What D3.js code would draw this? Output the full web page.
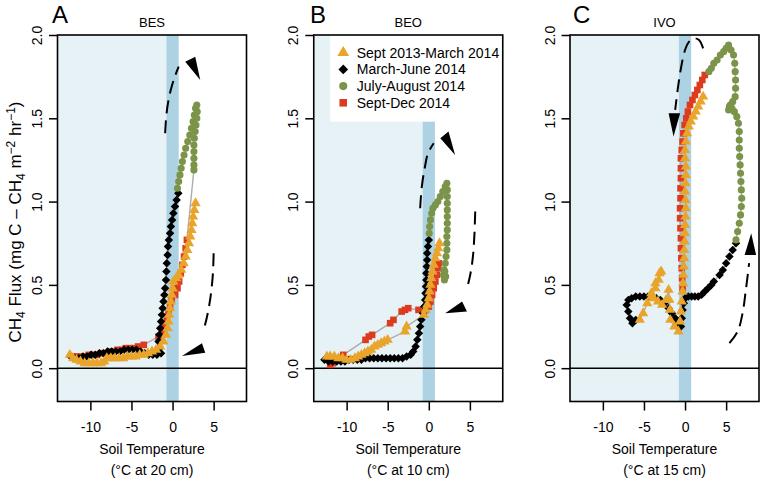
<!DOCTYPE html>
<html>
<head>
<meta charset="utf-8">
<script src="https://cdn.jsdelivr.net/npm/d3@7"></script>
<style>
  body { margin: 0; background: #fff; }
  svg { display: block; font-family: "Liberation Sans", Arial, Helvetica, sans-serif; }
</style>
</head>
<body>
<svg id="chart" width="765" height="482"></svg>
<script>
// ---- axis / label data ----
const xTicks = [-10, -5, 0, 5];
const yTicks = [0, 0.5, 1, 1.5, 2];
const siteNames = ["BES", "BEO", "IVO"];
const panelLetters = ["A", "B", "C"];
const depthLabels = ["(°C at 20 cm)", "(°C at 10 cm)", "(°C at 15 cm)"];
const seriesNames = ["Sept 2013-March 2014", "March-June 2014", "July-August 2014", "Sept-Dec 2014"];
const seriesColors = ["#e9a42b", "#000000", "#7b944a", "#dd3b1f"];

// ---- BES (soil temp °C, CH4 flux), in time order ----
const besSep13 = [[2.8,0.99],[2.65,0.95],[2.5,0.91],[2.4,0.87],[2.3,0.83],[2.15,0.79],[2.0,0.75],[1.8,0.71],[1.6,0.67],[1.35,0.63],[1.05,0.59],[0.75,0.56],[0.45,0.54],[0.1,0.52],[0.0,0.48],[-0.1,0.44],[-0.2,0.4],[-0.3,0.36],[-0.4,0.32],[-0.5,0.28],[-0.6,0.24],[-0.8,0.2],[-1.1,0.16],[-1.5,0.13],[-2.0,0.11],[-2.5,0.1],[-3.0,0.09],[-3.5,0.08],[-4.0,0.08],[-4.5,0.07],[-5.0,0.07],[-5.5,0.07],[-6.0,0.06],[-6.5,0.06],[-7.0,0.06],[-7.5,0.06],[-8.0,0.06],[-8.3,0.04],[-8.7,0.03],[-9.2,0.03],[-9.7,0.03],[-10.2,0.03],[-10.7,0.03],[-11.2,0.04],[-11.7,0.05],[-12.1,0.06],[-12.5,0.08]];
const besMarJun = [[-12.4,0.07],[-11.9,0.06],[-11.4,0.06],[-10.9,0.07],[-10.4,0.07],[-9.9,0.08],[-9.4,0.08],[-8.9,0.09],[-8.4,0.09],[-7.9,0.1],[-7.4,0.1],[-6.9,0.1],[-6.4,0.1],[-5.9,0.11],[-5.4,0.11],[-4.9,0.11],[-4.4,0.11],[-3.9,0.1],[-3.4,0.09],[-2.9,0.08],[-2.4,0.08],[-1.9,0.08],[-1.4,0.09],[-1.6,0.12],[-1.7,0.16],[-1.6,0.2],[-1.5,0.24],[-1.4,0.28],[-1.3,0.32],[-1.2,0.36],[-1.1,0.4],[-1.0,0.44],[-0.9,0.48],[-0.8,0.53],[-0.75,0.58],[-0.7,0.63],[-0.6,0.68],[-0.55,0.73],[-0.45,0.77],[-0.3,0.81],[-0.2,0.85],[-0.05,0.89],[0.1,0.93],[0.3,0.97],[0.5,1.01],[0.7,1.05]];
const besJulAug = [[0.6,1.08],[0.75,1.12],[0.9,1.16],[1.05,1.2],[1.2,1.24],[1.4,1.28],[1.6,1.32],[1.85,1.36],[2.1,1.4],[2.3,1.44],[2.5,1.48],[2.65,1.52],[2.8,1.56],[2.95,1.58],[3.0,1.54],[2.95,1.5],[2.85,1.46],[2.75,1.42],[2.65,1.38],[2.6,1.34],[2.6,1.3],[2.6,1.26],[2.6,1.22],[2.6,1.19]];
const besSepDec = [[1.75,0.77],[1.6,0.72],[1.4,0.67],[1.2,0.62],[1.0,0.57],[0.8,0.52],[0.6,0.48],[0.3,0.44],[-0.1,0.41],[-0.3,0.37],[-0.5,0.33],[-0.7,0.29],[-0.9,0.25],[-1.2,0.22],[-1.7,0.19],[-3.5,0.14],[-4.2,0.13],[-4.7,0.12],[-5.2,0.12],[-5.7,0.12],[-6.2,0.11],[-6.7,0.11],[-7.2,0.1],[-7.7,0.1],[-8.2,0.09],[-8.7,0.09],[-9.2,0.08],[-9.7,0.08],[-10.2,0.08],[-10.7,0.07],[-11.2,0.07],[-11.7,0.07],[-12.2,0.07]];

// ---- BEO ----
const beoSep13 = [[1.3,0.75],[1.15,0.72],[1.0,0.69],[0.8,0.66],[0.6,0.62],[0.45,0.58],[0.3,0.54],[0.2,0.5],[0.1,0.46],[0.0,0.42],[-0.2,0.38],[-0.4,0.35],[-0.6,0.32],[-2.7,0.25],[-2.9,0.22],[-5.0,0.17],[-5.4,0.16],[-5.8,0.15],[-6.2,0.14],[-6.6,0.13],[-7.0,0.11],[-7.4,0.1],[-7.8,0.09],[-8.2,0.08],[-8.6,0.07],[-9.0,0.06],[-9.5,0.05],[-10.0,0.05],[-10.5,0.06],[-11.0,0.06],[-11.5,0.07],[-12.0,0.07],[-12.4,0.07]];
const beoMarJun = [[-12.7,0.05],[-12.2,0.04],[-11.7,0.04],[-11.2,0.04],[-10.7,0.04],[-10.2,0.04],[-9.7,0.05],[-9.2,0.05],[-8.7,0.05],[-8.2,0.05],[-7.7,0.06],[-7.2,0.06],[-6.7,0.06],[-6.2,0.06],[-5.7,0.06],[-5.2,0.06],[-4.7,0.06],[-4.2,0.06],[-3.7,0.06],[-3.2,0.06],[-2.7,0.07],[-2.2,0.08],[-1.9,0.1],[-1.6,0.13],[-1.4,0.17],[-1.2,0.21],[-1.05,0.25],[-0.9,0.29],[-0.7,0.33],[-0.55,0.37],[-0.45,0.41],[-0.4,0.45],[-0.35,0.49],[-0.3,0.53],[-0.3,0.57],[-0.25,0.61],[-0.2,0.65],[-0.2,0.69],[-0.1,0.73],[0.0,0.77]];
const beoJulAug = [[0.05,0.81],[0.1,0.85],[0.2,0.89],[0.35,0.93],[0.5,0.96],[0.8,0.98],[1.1,1.0],[1.4,1.03],[1.7,1.06],[2.0,1.09],[2.2,1.11],[2.25,1.07],[2.25,1.03],[2.25,0.99],[2.25,0.95],[2.25,0.91],[2.25,0.87],[2.25,0.83],[2.2,0.79],[2.2,0.75],[2.2,0.71],[2.1,0.67],[2.0,0.63],[1.85,0.59],[1.8,0.56],[1.95,0.58],[2.05,0.55],[1.9,0.53]];
const beoSepDec = [[1.2,0.63],[1.1,0.6],[1.0,0.56],[0.8,0.52],[0.6,0.48],[0.4,0.44],[0.2,0.4],[0.0,0.37],[-0.4,0.35],[-1.25,0.35],[-2.5,0.36],[-2.9,0.35],[-3.3,0.34],[-4.3,0.29],[-4.7,0.27],[-6.9,0.2],[-7.3,0.19],[-7.7,0.17],[-10.4,0.08],[-10.9,0.06],[-11.3,0.05],[-11.7,0.03],[-12.0,0.02]];

// ---- IVO ----
const ivoSep13 = [[2.2,1.63],[1.9,1.6],[1.6,1.57],[1.3,1.54],[1.0,1.51],[0.7,1.48],[0.45,1.45],[0.25,1.41],[0.1,1.36],[0.0,1.31],[0.0,1.26],[0.1,1.21],[0.1,1.16],[0.05,1.11],[0.0,1.06],[0.05,1.01],[0.1,0.96],[0.05,0.91],[0.0,0.86],[0.0,0.81],[-0.05,0.76],[-0.1,0.71],[-0.1,0.66],[-0.15,0.61],[-0.2,0.56],[-0.25,0.51],[-0.3,0.46],[-0.4,0.4],[-0.5,0.34],[-0.6,0.28],[-0.8,0.22],[-1.3,0.25],[-1.8,0.29],[-1.85,0.35],[-1.9,0.41],[-2.0,0.47],[-2.3,0.41],[-2.8,0.38],[-3.3,0.4],[-3.8,0.42],[-4.1,0.43],[-3.6,0.48],[-3.2,0.53],[-2.9,0.58],[-3.1,0.57],[-3.6,0.51],[-4.1,0.45],[-4.6,0.39],[-5.1,0.33],[-5.5,0.29]];
const ivoMarJun = [[-6.0,0.29],[-6.4,0.27],[-6.7,0.3],[-6.9,0.34],[-7.1,0.38],[-6.9,0.41],[-6.5,0.42],[-6.0,0.43],[-5.5,0.43],[-5.0,0.43],[-4.5,0.43],[-4.0,0.43],[-3.5,0.42],[-3.0,0.41],[-2.5,0.39],[-2.0,0.36],[-1.6,0.33],[-1.2,0.3],[-0.8,0.27],[-0.5,0.25],[-0.4,0.3],[-0.3,0.35],[-0.15,0.39],[0.0,0.42],[0.4,0.43],[0.8,0.43],[1.2,0.43],[1.6,0.43],[2.0,0.44],[2.4,0.46],[2.8,0.48],[3.2,0.5],[3.5,0.52],[4.2,0.56],[4.6,0.59],[5.0,0.63],[5.4,0.67],[5.8,0.71],[6.2,0.75]];
const ivoJulAug = [[6.2,0.77],[6.4,0.82],[6.6,0.87],[6.75,0.92],[6.85,0.97],[6.9,1.02],[6.85,1.07],[6.8,1.12],[6.75,1.17],[6.7,1.22],[6.65,1.27],[6.6,1.32],[6.6,1.37],[6.6,1.42],[6.5,1.47],[6.3,1.51],[6.0,1.54],[5.7,1.56],[5.4,1.57],[5.3,1.55],[5.5,1.58],[5.8,1.6],[6.1,1.63],[6.15,1.68],[6.15,1.73],[6.1,1.78],[6.05,1.83],[5.9,1.88],[5.6,1.91],[5.3,1.94],[5.0,1.92],[4.7,1.9],[4.3,1.88],[3.9,1.85],[3.5,1.83],[3.2,1.8],[2.9,1.78]];
const ivoSepDec = [[2.4,1.76],[2.1,1.73],[1.8,1.7],[1.5,1.67],[1.2,1.64],[0.9,1.61],[0.6,1.58],[0.35,1.54],[0.15,1.5],[-0.05,1.46],[-0.2,1.41],[-0.3,1.36],[-0.4,1.31],[-0.5,1.26],[-0.5,1.2],[-0.5,1.14],[-0.55,1.08],[-0.55,1.02],[-0.6,0.96],[-0.6,0.9],[-0.55,0.84],[-0.5,0.78],[-0.5,0.72],[-0.45,0.66],[-0.4,0.6],[-0.35,0.54],[-0.3,0.48]];

// ---- dashed hysteresis arrows (data units) ----
const besArrowUp = [[-0.9,1.41],[-0.75,1.52],[-0.45,1.62],[-0.05,1.7],[0.35,1.76],[0.75,1.81]];
const besHeadUp = [[1.55,1.84],[2.76,1.87],[3.37,1.73]];
const besArrowLow = [[5.0,0.69],[4.9,0.56],[4.6,0.42],[4.2,0.31],[3.8,0.23]];
const besHeadLow = [[1.14,0.073],[3.58,0.15],[3.98,0.093]];
const beoArrowUp = [[-1.05,0.96],[-0.85,1.09],[-0.5,1.2],[-0.1,1.29],[0.6,1.35]];
const beoHeadUp = [[1.4,1.38],[2.4,1.42],[3.2,1.28]];
const beoArrowLow = [[5.65,0.94],[5.55,0.8],[5.35,0.66],[5.0,0.55],[4.6,0.47]];
const beoHeadLow = [[2.0,0.33],[4.05,0.4],[4.65,0.34]];
const ivoArrowUp = [[2.2,1.92],[1.7,1.97],[1.1,1.98],[0.5,1.96],[0.0,1.91],[-0.5,1.8],[-0.9,1.67],[-1.2,1.55]];
const ivoHeadUp = [[-2.0,1.53],[-0.6,1.53],[-1.4,1.39]];
const ivoArrowLow = [[5.4,0.15],[6.4,0.22],[7.0,0.33],[7.4,0.47],[7.8,0.63]];
const ivoHeadLow = [[7.25,0.68],[8.65,0.68],[8.05,0.81]];

const panels = [
  { series: [besSep13, besMarJun, besJulAug, besSepDec], arrows: [besArrowUp, besArrowLow], heads: [besHeadUp, besHeadLow] },
  { series: [beoSep13, beoMarJun, beoJulAug, beoSepDec], arrows: [beoArrowUp, beoArrowLow], heads: [beoHeadUp, beoHeadLow] },
  { series: [ivoSep13, ivoMarJun, ivoJulAug, ivoSepDec], arrows: [ivoArrowUp, ivoArrowLow], heads: [ivoHeadUp, ivoHeadLow] }
];

// ---- layout ----
const svg = d3.select("#chart");
const panelStep = 256.25, plotLeft = 57.5, plotW = 189, plotTop = 35, plotBottom = 401.5;
const letterX = [52, 310, 573];

// marker shapes: triangle, diamond, circle, square (R pch 17, 18, 16, 15)
function markerPath(i, big) {
  const k = big ? 1.3 : 1;
  if (i === 0) return d3.symbol(d3.symbolTriangle, 46 * k)();
  if (i === 1) return d3.symbol(d3.symbolSquare, 36 * k)();
  if (i === 2) return d3.symbol(d3.symbolCircle, 40 * k)();
  return d3.symbol(d3.symbolSquare, 44 * k)();
}
const drawOrder = [3, 1, 2, 0];

panels.forEach((p, pi) => {
  const left = plotLeft + pi * panelStep;
  const x = d3.scaleLinear().domain([-14, 9]).range([left, left + plotW]);
  const y = d3.scaleLinear().domain([-0.2, 2]).range([plotBottom, plotTop]);
  const g = svg.append("g");

  // frozen-soil background and the zero-curtain band
  g.append("rect")
    .attr("x", x(-14)).attr("y", plotTop)
    .attr("width", x(-0.75) - x(-14)).attr("height", plotBottom - plotTop)
    .attr("fill", "#e7f2f7");
  g.append("rect")
    .attr("x", x(-0.75)).attr("y", plotTop)
    .attr("width", x(0.75) - x(-0.75)).attr("height", plotBottom - plotTop)
    .attr("fill", "#add2e3");

  // legend box sits in panel B
  if (pi === 1) {
    g.append("rect")
      .attr("x", left + 16.5).attr("y", plotTop)
      .attr("width", plotW - 16.5).attr("height", 86.7)
      .attr("fill", "#fff");
    seriesNames.forEach((name, si) => {
      const cy = 52.7 + si * 16.7;
      g.append("path")
        .attr("d", markerPath(si, true))
        .attr("transform", `translate(${left + 29.5},${cy})` + (si === 1 ? " rotate(45)" : ""))
        .attr("fill", seriesColors[si]);
      g.append("text")
        .attr("x", left + 43).attr("y", cy + 5)
        .attr("font-size", 14)
        .text(name);
    });
  }

  // zero line
  g.append("line")
    .attr("x1", left).attr("x2", left + plotW)
    .attr("y1", y(0)).attr("y2", y(0))
    .attr("stroke", "#000").attr("stroke-width", 1.5);

  // gray connecting line, all periods in time order
  const allPts = [].concat(...p.series);
  g.append("path")
    .datum(allPts)
    .attr("d", d3.line().x(d => x(d[0])).y(d => y(d[1])))
    .attr("fill", "none")
    .attr("stroke", "#acacac")
    .attr("stroke-width", 1.4);

  // markers
  drawOrder.forEach(si => {
    g.append("g").selectAll("path")
      .data(p.series[si])
      .join("path")
      .attr("d", markerPath(si, false))
      .attr("transform", d => `translate(${x(d[0])},${y(d[1])})` + (si === 1 ? " rotate(45)" : ""))
      .attr("fill", seriesColors[si]);
  });

  // dashed arrows
  p.arrows.forEach(a => {
    g.append("path")
      .datum(a)
      .attr("d", d3.line().x(d => x(d[0])).y(d => y(d[1])).curve(d3.curveCatmullRom))
      .attr("fill", "none")
      .attr("stroke", "#000")
      .attr("stroke-width", 2)
      .attr("stroke-dasharray", "13,7");
  });
  p.heads.forEach(h => {
    g.append("path")
      .attr("d", "M" + h.map(d => x(d[0]) + "," + y(d[1])).join("L") + "Z")
      .attr("fill", "#000");
  });

  // box
  g.append("rect")
    .attr("x", left).attr("y", plotTop)
    .attr("width", plotW).attr("height", plotBottom - plotTop)
    .attr("fill", "none").attr("stroke", "#000").attr("stroke-width", 1.6);

  // x axis
  const xAxis = g.append("g")
    .attr("transform", `translate(0,${plotBottom})`)
    .call(d3.axisBottom(x).tickValues(xTicks).tickSize(9).tickPadding(12).tickFormat(d => d));
  xAxis.select(".domain").remove();
  xAxis.selectAll("line").attr("stroke-width", 1.5);
  xAxis.selectAll("text").attr("font-size", 14).attr("font-family", null).attr("fill", "#000");

  // y axis with rotated labels
  const yAxis = g.append("g")
    .attr("transform", `translate(${left},0)`)
    .call(d3.axisLeft(y).tickValues(yTicks).tickSize(8.5).tickFormat(d3.format(".1f")));
  yAxis.select(".domain").remove();
  yAxis.selectAll("line").attr("stroke-width", 1.5);
  yAxis.selectAll("text")
    .attr("x", null).attr("dy", null)
    .attr("transform", "translate(-15.5,0) rotate(-90)")
    .attr("text-anchor", "middle")
    .attr("font-size", 14).attr("font-family", null).attr("fill", "#000");

  // titles
  const cx = left + plotW / 2;
  g.append("text").attr("x", cx).attr("y", 26.5).attr("text-anchor", "middle")
    .attr("font-size", 13).text(siteNames[pi]);
  g.append("text").attr("x", letterX[pi]).attr("y", 22.5)
    .attr("font-size", 24).text(panelLetters[pi]);
  g.append("text").attr("x", cx).attr("y", 454).attr("text-anchor", "middle")
    .attr("font-size", 14).text("Soil Temperature");
  g.append("text").attr("x", cx).attr("y", 475).attr("text-anchor", "middle")
    .attr("font-size", 14).text(depthLabels[pi]);
});

// y axis title with sub/superscripts
const yTitle = svg.append("text")
  .attr("transform", "translate(21,222) rotate(-90)")
  .attr("text-anchor", "middle")
  .attr("font-size", 17);
yTitle.append("tspan").text("CH");
yTitle.append("tspan").attr("font-size", 12).attr("dy", 4).text("4");
yTitle.append("tspan").attr("dy", -4).text(" Flux (mg C \u2013 CH");
yTitle.append("tspan").attr("font-size", 12).attr("dy", 4).text("4");
yTitle.append("tspan").attr("dy", -4).text(" m");
yTitle.append("tspan").attr("font-size", 12).attr("dy", -6).text("\u22122");
yTitle.append("tspan").attr("dy", 6).text(" hr");
yTitle.append("tspan").attr("font-size", 12).attr("dy", -6).text("\u22121");
yTitle.append("tspan").attr("dy", 6).text(")");
</script>
</body>
</html>
